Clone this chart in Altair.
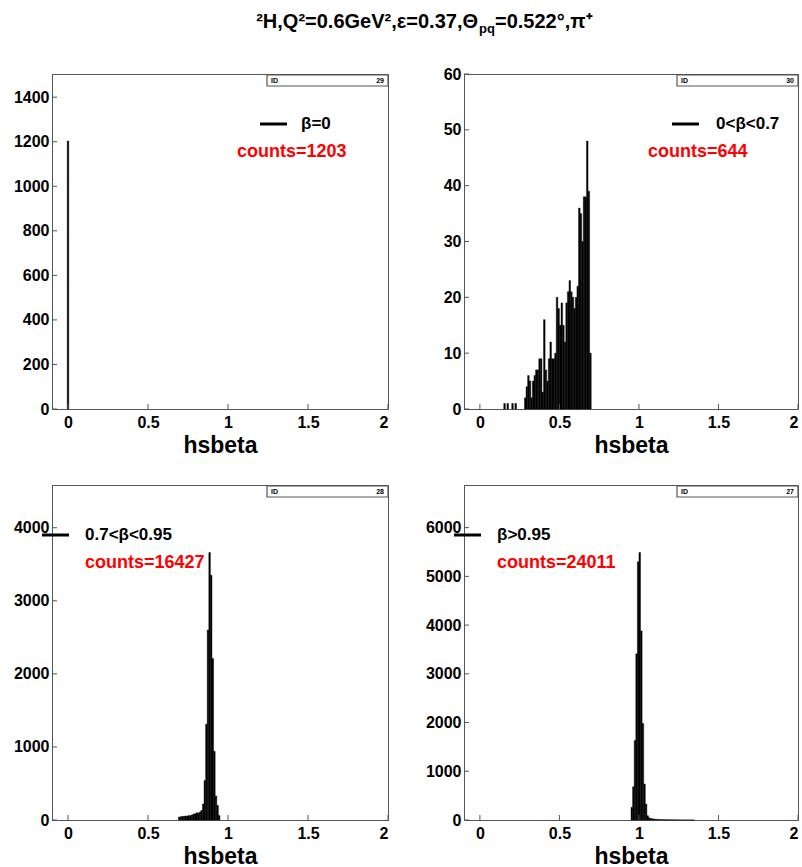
import altair as alt
import pandas as pd

FONT = "Liberation Sans"
FRAME = "#555555"
RED = "#ff0000"

# ---------------- data ----------------
x_ticks = [0, 0.5, 1, 1.5, 2]

# panel 1 : beta = 0  (ID 29)
p1_x = [0.0]
p1_n = [1203]
p1_yticks = [0, 200, 400, 600, 800, 1000, 1200, 1400]

# panel 2 : 0 < beta < 0.7  (ID 30)
p2_x = [0.155, 0.175, 0.205, 0.225,
        0.285, 0.295, 0.305, 0.315, 0.325, 0.335, 0.345, 0.355, 0.365, 0.375,
        0.385, 0.395, 0.405, 0.415, 0.425, 0.435, 0.445, 0.455, 0.465, 0.475,
        0.485, 0.495, 0.505, 0.515, 0.525, 0.535, 0.545, 0.555, 0.565, 0.575,
        0.585, 0.595, 0.605, 0.615, 0.625, 0.635, 0.645, 0.655, 0.665, 0.675,
        0.685, 0.695]
p2_n = [1, 1, 1, 1,
        2, 4, 6, 5, 2, 5, 6, 7, 7, 9,
        9, 3, 16, 7, 5, 9, 12, 9, 9, 10,
        20, 18, 15, 19, 15, 12, 19, 21, 23, 21,
        20, 18, 20, 22, 36, 35, 30, 38, 38, 48,
        39, 10]
p2_yticks = [0, 10, 20, 30, 40, 50, 60]

# panel 3 : 0.7 < beta < 0.95  (ID 28)
p3_x = [0.695, 0.705, 0.715, 0.725, 0.735, 0.745, 0.755, 0.765, 0.775, 0.785,
        0.795, 0.805, 0.815, 0.825, 0.835, 0.845, 0.855, 0.865, 0.875, 0.885,
        0.895, 0.905, 0.915, 0.925, 0.935, 0.945]
p3_n = [40, 45, 50, 50, 55, 55, 60, 60, 70, 80,
        85, 100, 95, 110, 130, 220, 540, 1310, 2600, 3660,
        3350, 2210, 940, 330, 200, 60]
p3_yticks = [0, 1000, 2000, 3000, 4000]

# panel 4 : beta > 0.95  (ID 27)
p4_x = [0.955, 0.965, 0.975, 0.985, 0.995, 1.005, 1.015, 1.025, 1.035, 1.045,
        1.055, 1.065, 1.075, 1.085, 1.095, 1.105, 1.115, 1.125, 1.135, 1.145,
        1.155, 1.165, 1.175, 1.185, 1.195, 1.205, 1.215, 1.225, 1.235, 1.245,
        1.255, 1.265, 1.275, 1.285, 1.295, 1.305, 1.315, 1.325, 1.335, 1.345]
p4_n = [260, 683, 1630, 3410, 5300, 5490, 3880, 1980, 738, 328,
        88, 45, 30, 25, 20, 15, 12, 10, 8, 8,
        7, 6, 5, 5, 4, 4, 3, 3, 3, 2,
        2, 2, 2, 1, 1, 1, 1, 1, 1, 1]
p4_yticks = [0, 1000, 2000, 3000, 4000, 5000, 6000]

legend_labels = ["\u03b2=0", "0<\u03b2<0.7", "0.7<\u03b2<0.95", "\u03b2>0.95"]
count_labels = ["counts=1203", "counts=644", "counts=16427", "counts=24011"]
hist_ids = ["29", "30", "28", "27"]
y_max = [1504, 60, 4585, 6875]

title_main = "\u00b2H,Q\u00b2=0.6GeV\u00b2,\u03b5=0.37,\u0398"
title_sub = "pq"
title_tail = "=0.522\u00b0,\u03c0\u207a"

H = 335
one = pd.DataFrame({"a": [0]})


def panel(xs, ns, ymax, yticks, label, counts, hid, w, leg_line_x, leg_text_x,
          cnt_x, first=False):
    xsc = alt.Scale(domain=[-0.1, 2], nice=False, zero=False)
    ysc = alt.Scale(domain=[0, ymax], nice=False, zero=True)
    xax = alt.Axis(values=x_ticks, labelExpr="datum.value + ''",
                   ticks=False, labelPadding=5, title="hsbeta",
                   titleY=43, titleBaseline="alphabetic")
    yax = alt.Axis(values=yticks, format="d", ticks=False, labelPadding=3,
                   title=None)
    df = pd.DataFrame({"beta": xs, "n": ns})
    bars = (
        alt.Chart(df)
        .transform_calculate(lo="datum.beta - 0.005", hi="datum.beta + 0.005", base="0")
        .mark_rect(color="black", stroke="black", strokeWidth=0.4)
        .encode(
            x=alt.X("lo:Q", scale=xsc, axis=xax),
            x2="hi:Q",
            y=alt.Y("n:Q", scale=ysc, axis=yax),
            y2="base:Q",
        )
    )
    xt = alt.Chart(pd.DataFrame({"t": x_ticks})).mark_rule(color=FRAME).encode(
        x=alt.X("t:Q", scale=xsc, axis=xax), y=alt.value(H), y2=alt.value(H - 5))
    yt = alt.Chart(pd.DataFrame({"t": yticks})).mark_rule(color=FRAME).encode(
        y=alt.Y("t:Q", scale=ysc, axis=yax), x=alt.value(0), x2=alt.value(5))
    leg_line = alt.Chart(one).mark_rule(color="black", strokeWidth=3).encode(
        x=alt.value(leg_line_x), x2=alt.value(leg_line_x + 27), y=alt.value(50))
    leg_text = alt.Chart(one).mark_text(
        align="left", baseline="middle", font=FONT, fontWeight="bold",
        fontSize=17, color="black").encode(
        x=alt.value(leg_text_x), y=alt.value(50), text=alt.value(label))
    cnt_text = alt.Chart(one).mark_text(
        align="left", baseline="middle", font=FONT, fontWeight="bold",
        fontSize=18, color=RED).encode(
        x=alt.value(cnt_x), y=alt.value(78), text=alt.value(counts))
    id_box = alt.Chart(one).mark_rect(fill="white", stroke=FRAME, strokeWidth=1.2).encode(
        x=alt.value(w - 121), x2=alt.value(w), y=alt.value(1), y2=alt.value(12))
    id_l = alt.Chart(one).mark_text(
        align="left", baseline="middle", font=FONT, fontSize=7, fontWeight="bold",
        color="black").encode(x=alt.value(w - 117), y=alt.value(6.5), text=alt.value("ID"))
    id_r = alt.Chart(one).mark_text(
        align="right", baseline="middle", font=FONT, fontSize=7, fontWeight="bold",
        color="black").encode(x=alt.value(w - 4), y=alt.value(6.5), text=alt.value(hid))
    layers = [bars, xt, yt, leg_line, leg_text, cnt_text, id_box, id_l, id_r]
    if first:
        marker = alt.Chart(one).mark_rule(color="white", strokeWidth=1).encode(
            x=alt.value(-50.5), x2=alt.value(-49.5), y=alt.value(-72.5))
        t1 = alt.Chart(one).mark_text(
            align="right", baseline="alphabetic", font=FONT, fontWeight="bold",
            fontSize=20, color="black").encode(
            x=alt.value(426), y=alt.value(-46), text=alt.value(title_main))
        t2 = alt.Chart(one).mark_text(
            align="left", baseline="alphabetic", font=FONT, fontWeight="bold",
            fontSize=13, color="black").encode(
            x=alt.value(427), y=alt.value(-41), text=alt.value(title_sub))
        t3 = alt.Chart(one).mark_text(
            align="left", baseline="alphabetic", font=FONT, fontWeight="bold",
            fontSize=20, color="black").encode(
            x=alt.value(443), y=alt.value(-46), text=alt.value(title_tail))
        layers += [marker, t1, t2, t3]
    return alt.layer(*layers).properties(width=w, height=H)


c1 = panel(p1_x, p1_n, y_max[0], p1_yticks, legend_labels[0], count_labels[0],
           hist_ids[0], 336, 208, 249, 185, first=True)
c2 = panel(p2_x, p2_n, y_max[1], p2_yticks, legend_labels[1], count_labels[1],
           hist_ids[1], 334, 208, 252, 184)
c3 = panel(p3_x, p3_n, y_max[2], p3_yticks, legend_labels[2], count_labels[2],
           hist_ids[2], 336, -10, 33, 33)
c4 = panel(p4_x, p4_n, y_max[3], p4_yticks, legend_labels[3], count_labels[3],
           hist_ids[3], 334, -10, 33, 33)

chart = (
    alt.concat(c1, c2, c3, c4, columns=2, spacing=76, bounds="flush")
    .properties(padding=0, background="white")
    .configure_view(stroke=FRAME, strokeWidth=1)
    .configure_axis(
        domainColor=FRAME, domainWidth=1, grid=False,
        labelFont=FONT, labelFontWeight="bold", labelFontSize=16, labelColor="black",
        titleFont=FONT, titleFontWeight="bold", titleFontSize=23, titleColor="black",
    )
)

chart.save("out.html", embed_options={"renderer": "svg", "actions": False})
